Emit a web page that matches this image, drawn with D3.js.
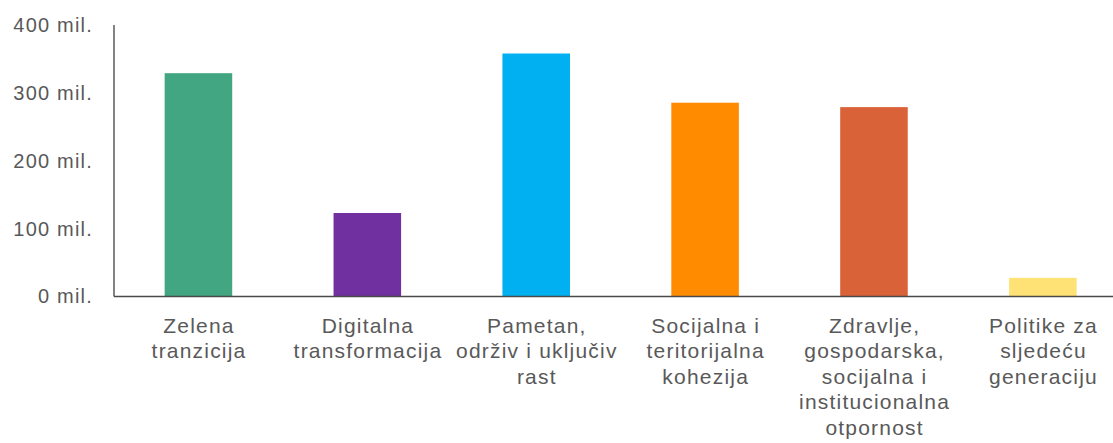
<!DOCTYPE html>
<html>
<head>
<meta charset="utf-8">
<script src="https://cdn.jsdelivr.net/npm/d3@7"></script>
<style>
  html, body { margin: 0; padding: 0; background: #fff; }
  svg { display: block; font-family: Arial, "Liberation Sans", sans-serif; }
</style>
</head>
<body>
<div id="chart"></div>
<script>
// data (millions)
const categories = ["Zelena tranzicija", "Digitalna transformacija", "Pametan, održiv i uključiv rast",
  "Socijalna i teritorijalna kohezija", "Zdravlje, gospodarska, socijalna i institucionalna otpornost",
  "Politike za sljedeću generaciju"];
const labelLines = [
  ["Zelena", "tranzicija"],
  ["Digitalna", "transformacija"],
  ["Pametan,", "održiv i uključiv", "rast"],
  ["Socijalna i", "teritorijalna", "kohezija"],
  ["Zdravlje,", "gospodarska,", "socijalna i", "institucionalna", "otpornost"],
  ["Politike za", "sljedeću", "generaciju"]
];
const values = [329, 123, 358, 285.5, 279, 27.5];
const barColors = ["#41A681", "#7030A0", "#00B0F0", "#FF8C00", "#DA6238", "#FFE275"];
const yTicks = [0, 100, 200, 300, 400];

const width = 1113, height = 443;
const axisX = 114, baseY = 296.5, topY = 25;

const svg = d3.select("#chart").append("svg")
    .attr("width", width)
    .attr("height", height);

const x = d3.scaleBand()
    .domain(categories)
    .range([axisX, 1127.3])
    .paddingInner(0.6)
    .paddingOuter(0.3);

const y = d3.scaleLinear()
    .domain([0, 400])
    .range([baseY, topY]);

// bars
svg.append("g").selectAll("rect")
  .data(values)
  .join("rect")
    .attr("x", (d, i) => x(categories[i]))
    .attr("y", d => y(d))
    .attr("width", x.bandwidth())
    .attr("height", d => y(0) - y(d))
    .attr("fill", (d, i) => barColors[i]);

// y axis labels
const yAxis = svg.append("g")
    .attr("transform", `translate(${axisX},0)`)
    .call(d3.axisLeft(y).tickValues(yTicks).tickSize(0).tickPadding(21)
      .tickFormat(d => d + " mil."));
yAxis.select(".domain").remove();
yAxis.selectAll(".tick text")
    .style("font-size", "20px")
    .style("letter-spacing", "1.2px")
    .style("font-family", "Arial, 'Liberation Sans', sans-serif")
    .attr("fill", "#595959");

// axis lines
svg.append("line")
    .attr("x1", axisX).attr("x2", axisX)
    .attr("y1", y(400)).attr("y2", y(0))
    .attr("stroke", "#404040").attr("stroke-width", 1.3);
svg.append("line")
    .attr("x1", axisX).attr("x2", width)
    .attr("y1", y(0)).attr("y2", y(0))
    .attr("stroke", "#4a4a4a").attr("stroke-width", 1.6);

// category labels
const xAxis = svg.append("g")
    .attr("transform", `translate(0,${baseY})`)
    .call(d3.axisBottom(x).tickSize(0).tickFormat(""));
xAxis.select(".domain").remove();
xAxis.selectAll(".tick").each(function(d, i) {
  const t = d3.select(this).append("text")
      .attr("text-anchor", "middle")
      .attr("fill", "#595959")
      .style("font-size", "21px")
      .style("letter-spacing", "1.2px")
      .style("font-family", "Arial, 'Liberation Sans', sans-serif");
  labelLines[i].forEach((line, k) => {
    t.append("tspan")
      .attr("x", 0.6)
      .attr("y", 36 + k * 25.6)
      .text(line);
  });
});
</script>
</body>
</html>
